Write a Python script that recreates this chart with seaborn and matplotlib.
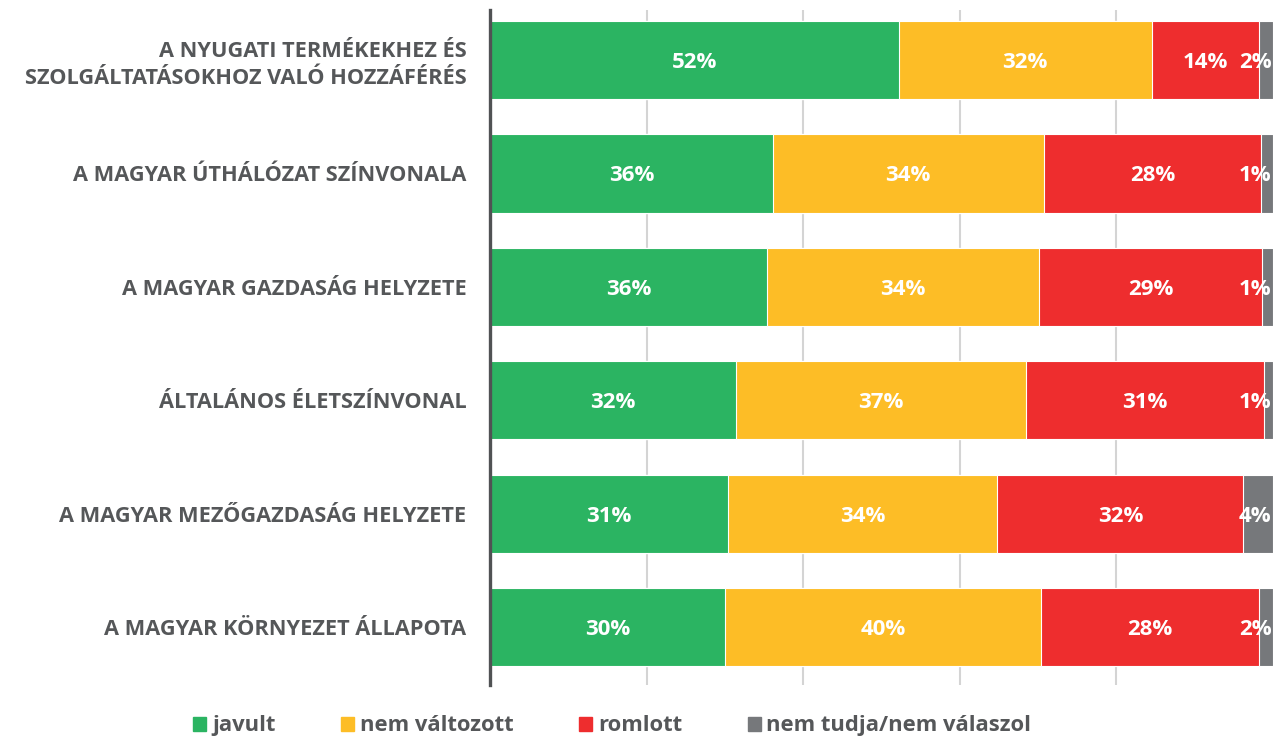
import numpy as np
import pandas as pd
import matplotlib.pyplot as plt
import seaborn as sns

categories = ['A NYUGATI TERMÉKEKHEZ ÉS\nSZOLGÁLTATÁSOKHOZ VALÓ HOZZÁFÉRÉS',
              'A MAGYAR ÚTHÁLÓZAT SZÍNVONALA',
              'A MAGYAR GAZDASÁG HELYZETE',
              'ÁLTALÁNOS ÉLETSZÍNVONAL',
              'A MAGYAR MEZŐGAZDASÁG HELYZETE',
              'A MAGYAR KÖRNYEZET ÁLLAPOTA']
series = ['javult', 'nem változott', 'romlott', 'nem tudja/nem válaszol']
javult = [52.2, 36.1, 35.4, 31.4, 30.4, 30.0]
nem_valtozott = [32.3, 34.6, 34.7, 37.0, 34.4, 40.4]
romlott = [13.7, 27.8, 28.5, 30.4, 31.4, 27.8]
nem_tudja = [1.8, 1.5, 1.4, 1.2, 3.8, 1.8]
labels = [['52%', '36%', '36%', '32%', '31%', '30%'],
          ['32%', '34%', '34%', '37%', '34%', '40%'],
          ['14%', '28%', '29%', '31%', '32%', '28%'],
          ['2%', '1%', '1%', '1%', '4%', '2%']]
colors = ['#2bb462', '#fdbd26', '#ee2d2e', '#76787b']

sns.set_theme(style='white')
plt.rcParams['font.family'] = ['Open Sans', 'DejaVu Sans']

vals = np.array([javult, nem_valtozott, romlott, nem_tudja])
cum = vals.cumsum(axis=0)

fig = plt.figure(figsize=(12.73, 7.37), dpi=100)
ax = fig.add_axes([0.385, 0.0706, 0.615, 0.9158])

# draw the stacks back to front so each segment shows
for i in range(3, -1, -1):
    df = pd.DataFrame({'cat': categories, 'val': cum[i]})
    sns.barplot(data=df, x='val', y='cat', orient='h', color=colors[i],
                width=0.69, edgecolor='white', linewidth=0.8,
                saturation=1, ax=ax, zorder=2)

for i in range(4):
    for j in range(len(categories)):
        start = cum[i][j] - vals[i][j]
        if i == 3:
            ax.text(99.8, j, labels[i][j], ha='right', va='center_baseline', color='white',
                    fontsize=16, fontweight='bold', zorder=3)
        else:
            ax.text(start + vals[i][j] / 2, j, labels[i][j], ha='center', va='center_baseline',
                    color='white', fontsize=16, fontweight='bold', zorder=3)

ax.set_xlim(0, 100)
ax.set_ylim(5.51, -0.44)
ax.set_xticks([20, 40, 60, 80])
ax.set_xticklabels([])
ax.grid(axis='x', color='#d4d4d4', linewidth=1.5, zorder=0)
ax.set_axisbelow(True)
ax.set_xlabel('')
ax.set_ylabel('')
for s in ['top', 'right', 'bottom']:
    ax.spines[s].set_visible(False)
ax.spines['left'].set_color('#505254')
ax.spines['left'].set_linewidth(2.4)
ax.tick_params(axis='y', length=0, pad=17)
ax.tick_params(axis='x', length=0)
for t in ax.get_yticklabels():
    t.set_fontsize(15.7)
    t.set_fontweight('bold')
    t.set_color('#555759')
    t.set_multialignment('right')
    t.set_linespacing(1.35)

handles = [plt.Rectangle((0, 0), 1, 1, color=c) for c in colors]
leg = fig.legend(handles, series, loc='center', bbox_to_anchor=(0.481, 0.015), ncol=4,
                 frameon=False, handlelength=0.6, handleheight=0.6, handletextpad=0.25,
                 columnspacing=3.0, fontsize=15.8)
for t in leg.get_texts():
    t.set_color('#555759')
    t.set_fontweight('bold')

fig.savefig('out.png', dpi=100)
